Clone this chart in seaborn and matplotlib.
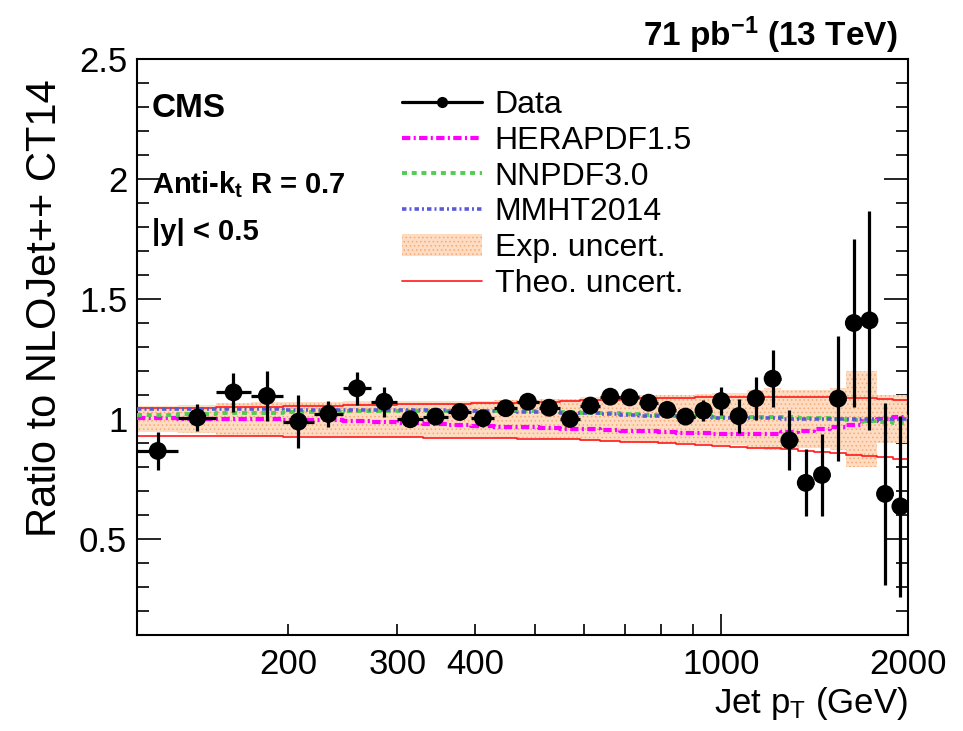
import numpy as np
import matplotlib
matplotlib.use("Agg")
import matplotlib.pyplot as plt
from matplotlib.lines import Line2D
from matplotlib.patches import Patch
from matplotlib.ticker import FixedLocator, FixedFormatter, MultipleLocator, FuncFormatter
import seaborn as sns

# Jet pT bin edges (GeV)
bin_edges = [114, 133, 153, 174, 196, 220, 245, 272, 300, 330, 362, 395, 430, 468,
             507, 548, 592, 638, 686, 737, 790, 846, 905, 967, 1032, 1101, 1172,
             1248, 1327, 1410, 1497, 1588, 1684, 1784, 1890, 2000]

# Measured ratio to NLOJet++ (CT14) and its total uncertainty
data_ratio = [0.867, 1.006, 1.111, 1.096, 0.989, 1.021, 1.128, 1.072, 0.999, 1.010,
              1.029, 1.003, 1.045, 1.072, 1.047, 1.000, 1.056, 1.093, 1.090, 1.068,
              1.038, 1.010, 1.035, 1.075, 1.012, 1.086, 1.168, 0.911, 0.734, 0.767,
              1.085, 1.400, 1.411, 0.688, 0.636]
data_err = [0.080, 0.058, 0.082, 0.103, 0.109, 0.055, 0.068, 0.063, 0.020, 0.020,
            0.020, 0.020, 0.020, 0.020, 0.020, 0.020, 0.020, 0.020, 0.020, 0.020,
            0.025, 0.030, 0.045, 0.060, 0.072, 0.090, 0.118, 0.125, 0.140, 0.170,
            0.260, 0.350, 0.456, 0.380, 0.378]

# Alternative PDF predictions relative to CT14
herapdf = [1.005, 1.000, 1.000, 0.998, 0.996, 0.994, 0.992, 0.988, 0.984, 0.980,
           0.976, 0.972, 0.968, 0.965, 0.962, 0.960, 0.957, 0.954, 0.951, 0.948,
           0.945, 0.942, 0.940, 0.938, 0.937, 0.937, 0.939, 0.944, 0.950, 0.957,
           0.965, 0.975, 0.990, 1.000, 1.010]
nnpdf = [1.018, 1.020, 1.023, 1.026, 1.028, 1.030, 1.032, 1.033, 1.034, 1.035,
         1.035, 1.035, 1.035, 1.034, 1.032, 1.030, 1.027, 1.024, 1.020, 1.016,
         1.013, 1.012, 1.011, 1.010, 1.010, 1.010, 1.009, 1.008, 1.006, 1.003,
         1.000, 0.996, 0.992, 0.988, 0.984]
mmht = [1.042, 1.041, 1.040, 1.040, 1.039, 1.038, 1.038, 1.037, 1.037, 1.036,
        1.035, 1.034, 1.033, 1.031, 1.029, 1.026, 1.023, 1.020, 1.017, 1.014,
        1.012, 1.010, 1.008, 1.006, 1.005, 1.004, 1.003, 1.002, 1.001, 1.000,
        1.000, 1.000, 1.000, 1.000, 1.000]

# Experimental uncertainty (half width around 1)
exp_halfwidth = [0.055, 0.060, 0.065, 0.070, 0.070, 0.070, 0.075, 0.075, 0.075, 0.075,
                 0.075, 0.075, 0.078, 0.080, 0.085, 0.085, 0.090, 0.090, 0.095, 0.100,
                 0.100, 0.100, 0.105, 0.110, 0.110, 0.120, 0.130, 0.120, 0.120, 0.120,
                 0.130, 0.200, 0.200, 0.100, 0.100]

# Theory uncertainty envelope
theo_up = [1.045, 1.047, 1.049, 1.051, 1.053, 1.055, 1.057, 1.059, 1.061, 1.063,
           1.064, 1.066, 1.068, 1.070, 1.072, 1.075, 1.078, 1.081, 1.084, 1.086,
           1.088, 1.089, 1.090, 1.090, 1.090, 1.090, 1.090, 1.090, 1.090, 1.090,
           1.090, 1.088, 1.086, 1.082, 1.080]
theo_down = [0.931, 0.930, 0.929, 0.928, 0.927, 0.926, 0.925, 0.924, 0.923, 0.922,
             0.921, 0.920, 0.919, 0.918, 0.917, 0.915, 0.912, 0.909, 0.906, 0.903,
             0.899, 0.895, 0.891, 0.887, 0.884, 0.881, 0.878, 0.874, 0.868, 0.862,
             0.857, 0.851, 0.846, 0.840, 0.835]

x_major_ticks = [1000]
x_minor_ticks = [200, 300, 400, 500, 600, 700, 800, 900, 2000]
x_minor_labels = ["200", "300", "400", "", "", "", "", "", "2000"]
x_major_labels = ["1000"]

sns.set_style("ticks")
plt.rcParams.update({
    "mathtext.fontset": "custom",
    "mathtext.rm": "Liberation Sans",
    "mathtext.bf": "Liberation Sans:bold",
    "mathtext.it": "Liberation Sans:italic",
    "lines.scale_dashes": False,
    "hatch.linewidth": 0.6,
    "axes.linewidth": 1.5,
    "axes.edgecolor": "black",
    "text.color": "black",
    "axes.labelcolor": "black",
    "xtick.color": "black",
    "ytick.color": "black",
    "xtick.labelcolor": "black",
    "ytick.labelcolor": "black",
})
plt.rcParams["font.family"] = ["Liberation Sans", "DejaVu Sans"]

edges = np.array(bin_edges, dtype=float)
centers = np.sqrt(edges[:-1] * edges[1:])
ratio = np.array(data_ratio)


def stepped(values):
    v = np.asarray(values, dtype=float)
    return np.append(v, v[-1])


fig = plt.figure(figsize=(9.63, 7.31), dpi=100)
ax = fig.add_axes([137 / 963, 1 - 635 / 731, 771 / 963, 576 / 731])
ax.set_xscale("log")

# experimental uncertainty band
band_lo = 1 - stepped(exp_halfwidth)
band_hi = 1 + stepped(exp_halfwidth)
ax.fill_between(edges, band_lo, band_hi, step="post", facecolor="#fddcc2",
                edgecolor="#f7a877", hatch="....", linewidth=0, zorder=1)

# theory uncertainty envelope
for vals in (theo_up, theo_down):
    sns.lineplot(x=edges, y=stepped(vals), ax=ax, color="#ff1a1a", lw=1.2,
                 drawstyle="steps-post", estimator=None, sort=False, zorder=2)

pdf_styles = [
    (herapdf, "#ff00ff", 3.0, (0, (6.0, 2.4, 1.5, 2.4))),
    (nnpdf, "#52cc52", 2.8, (0, (3.6, 3.4))),
    (mmht, "#5a5ad8", 2.6, (0, (3.2, 2.2, 1.4, 2.2))),
]
for vals, col, lw, ls in pdf_styles:
    sns.lineplot(x=edges, y=stepped(vals), ax=ax, color=col, lw=lw, linestyle=ls,
                 drawstyle="steps-post", estimator=None, sort=False, zorder=3)

# data points with bin-width and uncertainty bars
ax.errorbar(centers, ratio, xerr=[centers - edges[:-1], edges[1:] - centers],
            yerr=data_err, fmt="none", ecolor="black", elinewidth=2.3, capsize=0,
            zorder=4)
sns.scatterplot(x=centers, y=ratio, ax=ax, color="black", s=165, edgecolor="none",
                zorder=5)

ax.set_xlim(edges[0], edges[-1])
ax.set_ylim(0.1, 2.5)
ax.set_xlabel("")
ax.set_ylabel("")

ax.xaxis.set_major_locator(FixedLocator(x_major_ticks))
ax.xaxis.set_major_formatter(FixedFormatter(x_major_labels))
ax.xaxis.set_minor_locator(FixedLocator(x_minor_ticks))
ax.xaxis.set_minor_formatter(FixedFormatter(x_minor_labels))
ax.yaxis.set_major_locator(MultipleLocator(0.5))
ax.yaxis.set_minor_locator(MultipleLocator(0.1))
ax.yaxis.set_major_formatter(FuncFormatter(lambda v, p: f"{v:g}"))

ax.tick_params(axis="both", which="both", direction="in", top=False, right=True,
               width=1.2, colors="black", labelcolor="black")
ax.tick_params(axis="y", which="major", length=17, pad=7)
ax.tick_params(axis="y", which="minor", length=8.5)
ax.tick_params(axis="x", which="major", length=15, pad=9)
ax.tick_params(axis="x", which="minor", length=8, pad=9)
for lab in ax.get_xticklabels(which="both") + ax.get_yticklabels():
    lab.set_fontsize(25)
for spine in ax.spines.values():
    spine.set_visible(True)
    spine.set_linewidth(1.5)
    spine.set_color("black")

# axis titles
fig.text(45 / 963, 1 - 308 / 731, "Ratio to NLOJet++ CT14", rotation=90,
         ha="center", va="center", fontsize=30, color="black")
fig.text(908 / 963, 1 - 713 / 731, r"Jet p$_\mathrm{T}$ (GeV)", ha="right",
         va="baseline", fontsize=25, color="black")
fig.text(897 / 963, 1 - 46 / 731, r"71 pb$^{\mathbf{-1}}$ (13 TeV)", ha="right",
         va="baseline", fontsize=24, fontweight="bold", color="black")

ax.text(0.0195, 0.899, "CMS", transform=ax.transAxes, fontsize=24,
        fontweight="bold", va="baseline", color="black")
ax.text(0.0195, 0.767, r"Anti-k$_\mathbf{t}$ R = 0.7", transform=ax.transAxes,
        fontsize=21, fontweight="bold", va="baseline", color="black")
ax.text(0.0195, 0.686, "|y| < 0.5", transform=ax.transAxes, fontsize=21,
        fontweight="bold", va="baseline", color="black")

handles = [
    Line2D([], [], color="black", lw=2.3, marker="o", ms=7),
    Line2D([], [], color="#ff00ff", lw=3.0, linestyle=(0, (6.0, 2.4, 1.5, 2.4))),
    Line2D([], [], color="#52cc52", lw=2.8, linestyle=(0, (3.6, 3.4))),
    Line2D([], [], color="#5a5ad8", lw=2.6, linestyle=(0, (3.2, 2.2, 1.4, 2.2))),
    Patch(facecolor="#fddcc2", edgecolor="#f7a877", hatch="....", linewidth=0),
    Line2D([], [], color="#ff1a1a", lw=1.2),
]
labels = ["Data", "HERAPDF1.5", "NNPDF3.0", "MMHT2014", "Exp. uncert.", "Theo. uncert."]
leg = ax.legend(handles, labels, loc="upper left", bbox_to_anchor=(0.344, 0.946),
                frameon=False, fontsize=23, handlelength=2.5, handletextpad=0.4,
                labelspacing=0.18, borderpad=0, borderaxespad=0)
for t in leg.get_texts():
    t.set_color("black")

fig.savefig("out.png", dpi=100)
